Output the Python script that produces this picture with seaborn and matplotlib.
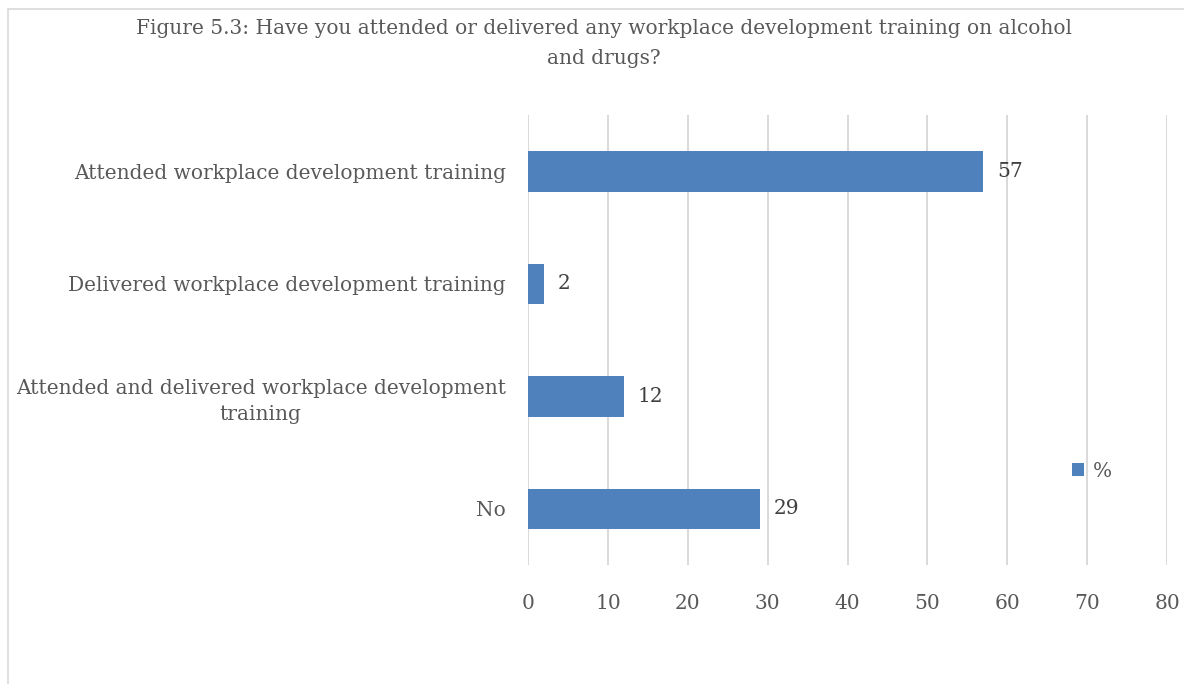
import matplotlib
matplotlib.use('Agg')
import matplotlib.pyplot as plt
import seaborn as sns
import pandas as pd
from matplotlib.patches import Rectangle

categories = ['Attended workplace development training',
              'Delivered workplace development training',
              'Attended and delivered workplace development\ntraining',
              'No']
values = [57, 2, 12, 29]
xticks = [0, 10, 20, 30, 40, 50, 60, 70, 80]

df = pd.DataFrame({'category': categories, 'pct': values})

sns.set_style('white')
plt.rcParams['font.family'] = ['DejaVu Serif']

text_col = '#595959'
bar_col = '#4F81BD'
grid_col = '#D9D9D9'
fs = 14.5

fig = plt.figure(figsize=(11.84, 6.84), dpi=100)
ax = fig.add_axes([528 / 1184, 1 - 565 / 684, 639 / 1184, 450 / 684])

sns.barplot(data=df, x='pct', y='category', orient='h', color=bar_col,
            width=0.36, ax=ax, label='%', saturation=1, linewidth=0)

ax.set_xlim(0, 80)
ax.set_xticks(xticks)
ax.set_xlabel('')
ax.set_ylabel('')
ax.grid(axis='x', color=grid_col, linewidth=1.4)
ax.set_axisbelow(True)
for s in ax.spines.values():
    s.set_visible(False)
ax.tick_params(axis='x', length=0, pad=21, labelsize=fs, labelcolor=text_col)
ax.tick_params(axis='y', length=0, pad=16, labelsize=fs, labelcolor=text_col)
for lbl in ax.get_yticklabels():
    lbl.set_multialignment('center')
    lbl.set_linespacing(1.45)

ax.bar_label(ax.containers[0], padding=10, fontsize=fs, color='#404040')

ax.legend(loc='center left', bbox_to_anchor=(1054 / 1184, 1 - 471 / 684),
          bbox_transform=fig.transFigure, frameon=False, fontsize=fs,
          handlelength=0.6, handleheight=0.6, handletextpad=0.45,
          labelcolor=text_col)

fig.text(604 / 1184, 1 - 29 / 684,
         'Figure 5.3: Have you attended or delivered any workplace development training on alcohol',
         ha='center', va='center', fontsize=fs, color=text_col)
fig.text(604 / 1184, 1 - 58 / 684, 'and drugs?',
         ha='center', va='center', fontsize=fs, color=text_col)

fig.patches.append(Rectangle((8 / 1184, -0.1), 1.2, 1 - 9 / 684 + 0.1,
                             transform=fig.transFigure, fill=False,
                             edgecolor='#D9D9D9', linewidth=1.2))

fig.savefig('out.png', dpi=100)
